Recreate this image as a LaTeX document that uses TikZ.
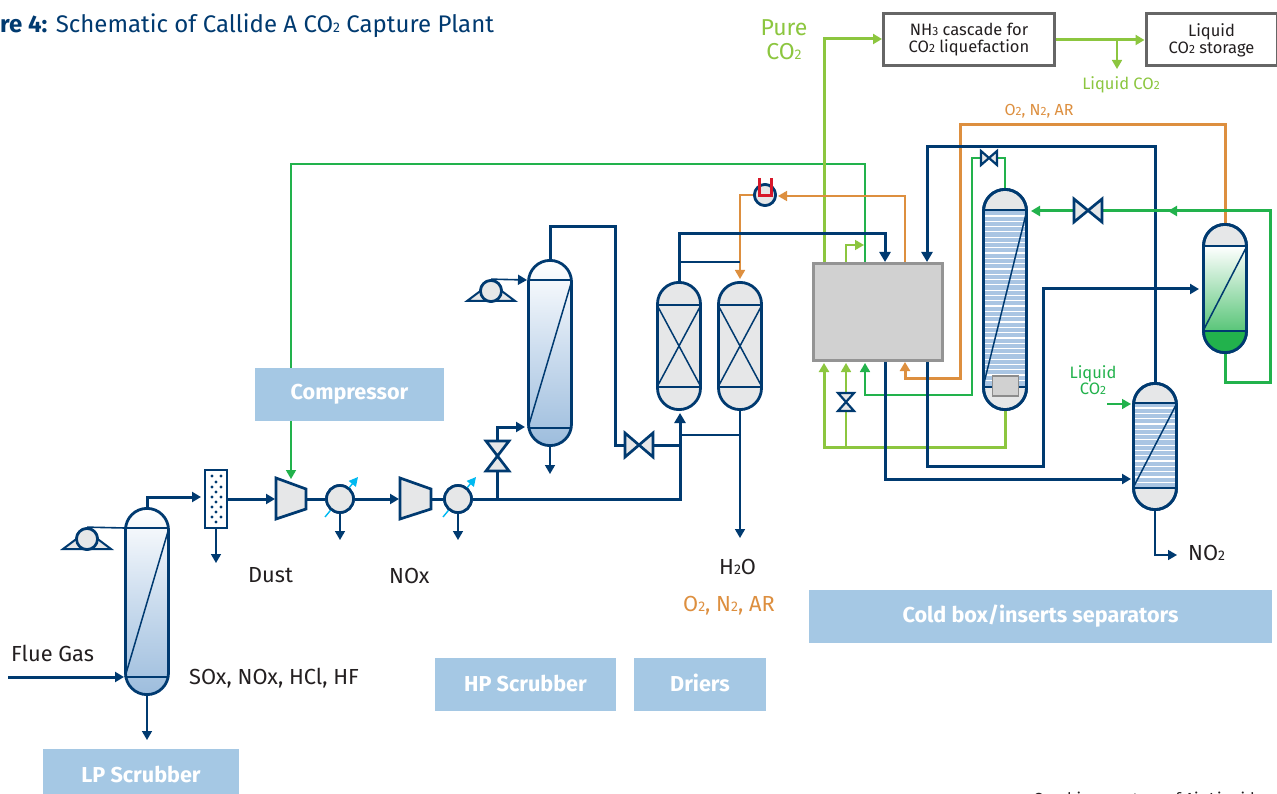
\documentclass[tikz,border=0pt]{standalone}
\usepackage{fontspec}
\setmainfont{Fira Sans}
\usetikzlibrary{arrows.meta,calc}
\definecolor{navy}{HTML}{003A70}
\definecolor{lblue}{HTML}{A5C8E4}
\definecolor{lgreen}{HTML}{8CC63F}
\definecolor{dgreen}{HTML}{22B24C}
\definecolor{orng}{HTML}{DD8F3F}
\definecolor{redu}{HTML}{D7182A}
\definecolor{cyanx}{HTML}{00B9F1}
\definecolor{ink}{HTML}{231F20}
\definecolor{pale}{HTML}{E6E7E8}
\definecolor{stripe}{HTML}{A9C5E3}
\definecolor{bluebot}{HTML}{9DBDDD}
\definecolor{bluemid}{HTML}{CBDCEE}
\newcommand{\sm}[1]{{\fontsize{14}{15}\selectfont #1}}
\newcommand{\smm}[1]{{\fontsize{12}{14}\selectfont #1}}
\newcommand{\vessel}[7]{% name, cx, top, bottom, tan top, tan bottom, fill style
  \node[vesselbox,#7,minimum height=#4-#3-2.8,anchor=north] (#1) at (#2,#3+1.4) {};
  \coordinate (#1tl) at (#2-22,#5); \coordinate (#1tr) at (#2+22,#5);
  \coordinate (#1bl) at (#2-22,#6); \coordinate (#1br) at (#2+22,#6);
}
\tikzset{
  x=1pt,y=-1pt,
  headL/.style={-{Triangle[length=10pt,width=11pt]}},
  headS/.style={-{Triangle[length=9pt,width=10pt]}},
  pipeA/.style={line width=3pt,line join=miter},
  pipeB/.style={line width=1.6pt,line join=miter},
  vesselbox/.style={draw=navy,line width=2.8pt,minimum width=43pt,inner sep=0pt,outer sep=0pt,rounded corners=21.5pt},
  grayv/.style={fill=pale},
  bluev/.style={top color=white,bottom color=bluebot,middle color=bluemid},
  inner line/.style={navy,line width=1.5pt},
  label/.style={font=\fontsize{21.8}{24}\selectfont,text=ink,inner sep=0pt,anchor=base west},
  band/.style={fill=lblue,draw=none,inner sep=0pt,text=white,font=\fontsize{21.6}{24}\selectfont\bfseries,align=center},
  machine/.style={draw=navy,line width=2.7pt,fill=pale,line join=miter},
  circ/.style={circle,draw=navy,line width=2.7pt,fill=pale,inner sep=0pt},
  gbox/.style={draw=black!60,line width=3pt,fill=white,inner sep=0pt,align=center,text=ink,font=\fontsize{16.5}{18}\selectfont},
}
\begin{document}
\begin{tikzpicture}
\clip (0,0) rectangle (1277,794);
\fill[white] (0,0) rectangle (1277,794);

% title
\node[inner sep=0pt,anchor=base west,text=navy,font=\fontsize{24}{26}\selectfont] (title) at (0,33) {\textbf{re 4:} Schematic of Callide A CO\sm{2} Capture Plant};

% machines as named nodes
\node[circ,minimum size=27pt] (hx1) at (340,499) {};
\node[circ,minimum size=27pt] (hx2) at (458,499) {};
\node[circ,minimum size=21pt] (hpump) at (765,195) {};
\node[circ,minimum size=21pt] (pump1) at (87,539) {};
\node[circ,minimum size=21pt] (pump2) at (491,291) {};

% named tap points
\coordinate (flue) at (8,677);
\coordinate (c1in) at (275,499);
\coordinate (c1out) at (306,499);
\coordinate (c2in) at (399,499);
\coordinate (c2out) at (431,499);
\coordinate (j1) at (497,499);
\coordinate (j2) at (680,499);
\node[inner sep=0pt,minimum width=23pt,minimum height=60pt] (filter) at (216,499) {};

% cyan arrows
\draw[cyanx,line width=1.4pt,-{Triangle[length=9pt,width=9pt]}] (325,517) -- (358,477);
\draw[cyanx,line width=1.4pt,-{Triangle[length=9pt,width=9pt]}] (443,517) -- (476,477);

% green thin (compressor recycle)
\coordinate (boxg) at (865,263);
\draw[dgreen,pipeB,headS] (boxg) -- (865,164) -- (291,164) -- (291,479);
% pure CO2
\coordinate (boxp) at (824,263);
\coordinate (nhin) at (882,39);
\draw[lgreen,pipeA,headS] (boxp) -- (824,39) -- (nhin);
\draw[lgreen,pipeB,headS] (846,263) -- (846,245) -- (864,245);
% orange thin
\draw[orng,pipeB,headS] (905,263) -- (905,196) -- (778,196);
\draw[orng,pipeB,headS] (hpump.west) -- (740,195) -- (740,279);
% navy driers
\draw[navy,pipeB] (679,262) -- (740,262);
\draw[navy,pipeA,headL] (679,281) -- (679,234) -- (885,234) -- (885,262);
\draw[navy,pipeB] (680,435) -- (740,435);
\coordinate (wout) at (740,538);
\draw[navy,pipeB,headS] (740,411) -- (wout);
% compressor line
\draw[navy,pipeA,headL] (j1) -- (j2) -- (680,413);
\draw[navy,pipeA] (hx2.east) -- (j1);
\draw[navy,pipeA] (j1) -- (497,471);
\draw[navy,pipeA,headS] (497,441) -- (497,427) -- (525,427);
\draw[navy,pipeA] (c1out) -- (hx1.west);
\draw[navy,pipeA,headS] (hx1.east) -- (c2in);
\draw[navy,pipeA] (c2out) -- (hx2.west);
\draw[navy,pipeA,headS] (filter.east) -- (c1in);
\draw[navy,pipeB,headS] (filter.south) -- (216,563);
\draw[navy,pipeB,headS] (hx1.south) -- (340,540);
\draw[navy,pipeB,headS] (hx2.south) -- (458,540);
\draw[navy,pipeA,headS] (147,507) -- (147,497) -- (201,497);
\draw[navy,pipeA,headS] (flue) -- (124,677);
\draw[navy,pipeB,headS] (147,696) -- (147,740);
\draw[navy,pipeB] (pump1.north) -- (125,528);
\draw[navy,pipeB,headS] (pump2.north) -- (527,280);
% HP scrubber overhead
\draw[navy,pipeA] (550,259) -- (550,227) -- (615,227) -- (615,445) -- (624,445);
\draw[navy,pipeA] (654,445) -- (680,445);
\draw[navy,pipeB,headS] (550,447) -- (550,474);

% cold side
\draw[lgreen,pipeA,headS] (1005,411) -- (1005,447) -- (824,447) -- (824,363);
\draw[lgreen,pipeB,headS] (846,447) -- (846,363);
\draw[dgreen,pipeB,headS] (1005,188) -- (1005,158) -- (972,158) -- (972,395) -- (865,395) -- (865,363);
\draw[orng,pipeA,headS] (1225,223) -- (1225,125) -- (960,125) -- (960,378) -- (905,378) -- (905,362);
\draw[navy,pipeA,headL] (1155,382) -- (1155,147) -- (927,147) -- (927,262);
\draw[navy,pipeA,headS] (885,361) -- (885,479) -- (1131,479);
\draw[navy,pipeA,headS] (927,361) -- (927,466) -- (1043,466) -- (1043,289) -- (1199,289);
\draw[dgreen,pipeA] (1225,353) -- (1225,382) -- (1270,382) -- (1270,211) -- (1103,211);
\draw[dgreen,pipeA,headS] (1270,211) -- (1168,211);
\draw[dgreen,pipeA,headS] (1073,211) -- (1031,211);
\coordinate (lqin) at (1107,404);
\draw[dgreen,pipeB,headS] (lqin) -- (1131,404);
\draw[navy,pipeB,headS] (1155,511) -- (1155,555) -- (1177,555);
% liquefaction
\node[gbox,minimum width=171pt,minimum height=52pt] (nh3) at (969,40) {NH\smm{3} cascade for\\[-1pt]CO\smm{2} liquefaction};
\node[gbox,minimum width=131pt,minimum height=52pt] (store) at (1211.5,40) {Liquid\\[-1pt]CO\smm{2} storage};
\draw[lgreen,pipeA,headS] (nh3.east) -- (store.west);
\draw[lgreen,pipeB,headS] (1117,39) -- (1117,69);

% filter
\draw[navy,line width=2.5pt,fill=white] (205,470) rectangle (227,528);
\foreach \xx/\yy in {212/476,221/476,216/482,212/487,221/487,216/492,212/497,221/497,216/502,212/507,221/507,216/512,221/517,212/517,216/522}
  \fill[navy] (\xx,\yy) circle (1.7pt);

% compressors
\draw[machine] (276,478) -- (306,489) -- (306,509) -- (276,519) -- cycle;
\draw[machine] (400,478) -- (431,489) -- (431,509) -- (400,519) -- cycle;
% redraw circles above lines
\node[circ,minimum size=27pt] at (340,499) {};
\node[circ,minimum size=27pt] at (458,499) {};
% pumps
\foreach \cx/\cy in {87/539,491/291}{
  \draw[navy,line width=2pt,fill=pale,line join=miter] (\cx-24,\cy+10) -- (\cx,\cy-8) -- (\cx+24,\cy+10) -- cycle;
  \node[circ,minimum size=21pt] at (\cx,\cy) {};
}
% hpump red U
\node[circ,minimum size=21pt] at (765,195) {};
\draw[redu,line width=3pt,line join=miter] (759,178) -- (759,196) -- (771,196) -- (771,178);

% valves
\draw[machine] (486,441) -- (509,441) -- (486,471) -- (509,471) -- cycle;
\draw[machine] (625,433) -- (625,457) -- (653,433) -- (653,457) -- cycle;
\draw[machine] (1074,199) -- (1074,222) -- (1102,199) -- (1102,222) -- cycle;
\draw[machine,line width=2.2pt] (838,393) -- (854,393) -- (838,411) -- (854,411) -- cycle;
\draw[machine,line width=2.2pt] (981,151) -- (981,165) -- (997,151) -- (997,165) -- cycle;

% big box
\node[draw=black!42,fill=black!18,line width=3.5pt,minimum width=129pt,minimum height=97pt,inner sep=0pt] (cbox) at (878,312) {};

% vessels
\vessel{va}{147}{507}{696}{528}{677}{bluev}
\vessel{vb}{550}{259}{447}{280}{428}{bluev}
\vessel{vc}{679}{281}{411}{305}{387}{grayv}
\vessel{vd}{740}{281}{411}{305}{387}{grayv}
\vessel{ve}{1005}{188}{411}{210}{387}{grayv}
\vessel{vf}{1225}{223}{354}{246}{331}{grayv}
\vessel{vg}{1155}{382}{511}{403}{488}{grayv}

% blue stripes in ve, vg
\fill[stripe] (ve.west |- vetl) rectangle (ve.east |- vebl);
\foreach \yy in {216,221.3,...,385}
  \draw[white,line width=1.2pt] (ve.west |- 0,\yy) -- (ve.east |- 0,\yy);
\fill[stripe] (vg.west |- vgtl) rectangle (vg.east |- vgbl);
\foreach \yy in {408,413.3,...,487}
  \draw[white,line width=1.2pt] (vg.west |- 0,\yy) -- (vg.east |- 0,\yy);
% green gradient in vf
\fill[top color=white,bottom color=dgreen!75!white] (vf.west |- vftl) rectangle (vf.east |- vfbl);
\begin{scope}
  \clip (1203,331) rectangle (1247,353);
  \fill[dgreen,rounded corners=21.5pt] (1203.5,250) rectangle (1246.5,352.6);
\end{scope}
% inner lines
\foreach \v in {va,vb,vc,vd,ve,vf,vg}{
  \draw[inner line] (\v tl) -- (\v tr);
  \draw[inner line] (\v bl) -- (\v br);
}
\draw[inner line] (vatr) -- (vabl);
\draw[inner line] (vbtr) -- (vbbl);
\draw[inner line] (vetr) -- (vebl);
\draw[inner line] (vftr) -- (vfbl);
\draw[inner line] (vgtr) -- (vgbl);
\draw[inner line] (vctl) -- (vcbr) (vctr) -- (vcbl);
\draw[inner line] (vdtl) -- (vdbr) (vdtr) -- (vdbl);
\foreach \v in {ve,vf,vg}
  \draw[navy,line width=2.8pt,rounded corners=21.5pt] (\v.south west) rectangle (\v.north east);
% heater block
\node[draw=black!45,fill=black!18,line width=1.2pt,minimum width=26pt,minimum height=20pt,inner sep=0pt] (heat) at (1005.5,386) {};

% bands (they lie over the recycle line)
\node[band,minimum width=189pt,minimum height=53pt] (bcomp) at (349.5,394.5) {Compressor};
\node[band,minimum width=463pt,minimum height=53pt] (bcold) at (1040.5,616.5) {Cold box/inserts separators};
\node[band,minimum width=181pt,minimum height=53pt] (bhp) at (525.5,684.5) {\raisebox{2pt}{HP Scrubber}};
\node[band,minimum width=132pt,minimum height=53pt] (bdry) at (700,684.5) {\raisebox{3pt}{Driers}};
\node[band,minimum width=196pt,minimum height=53pt] (blp) at (141,775.5) {\raisebox{3pt}{LP Scrubber}};

% labels
\node[label] (lflue) at (11,661) {Flue Gas};
\node[label] (lsox) at (189,684) {SOx, NOx, HCl, HF};
\node[label] (ldust) at (248,582) {Dust};
\node[label] (lnox) at (389,583) {NOx};
\node[label] (lh2o) at (719,574) {H\sm{2}O};
\node[label,text=orng] (lo2a) at (683,611) {O\sm{2}, N\sm{2}, AR};
\node[label] (lno2) at (1188,560) {NO\sm{2}};
\node[text=lgreen,font=\fontsize{23}{24}\selectfont,align=center,inner sep=0pt] (lpure) at (784,40) {Pure\\CO\sm{2}};
\node[text=lgreen,font=\fontsize{16.5}{18}\selectfont,inner sep=0pt,anchor=base] (lliq) at (1121,90) {Liquid CO\smm{2}};
\node[text=orng,font=\fontsize{16}{18}\selectfont,inner sep=0pt,anchor=base] (lo2b) at (1039,116) {O\smm{2}, N\smm{2}, AR};
\node[text=dgreen,font=\fontsize{16.5}{16.5}\selectfont,align=center,inner sep=0pt] (lliq2) at (1093,380) {Liquid\\CO\smm{2}};
\node[inner sep=0pt,anchor=base west,text=ink,font=\fontsize{16}{16}\selectfont] (credit) at (1033,804) {Graphics courtesy of Air Liquide};
\end{tikzpicture}
\end{document}
